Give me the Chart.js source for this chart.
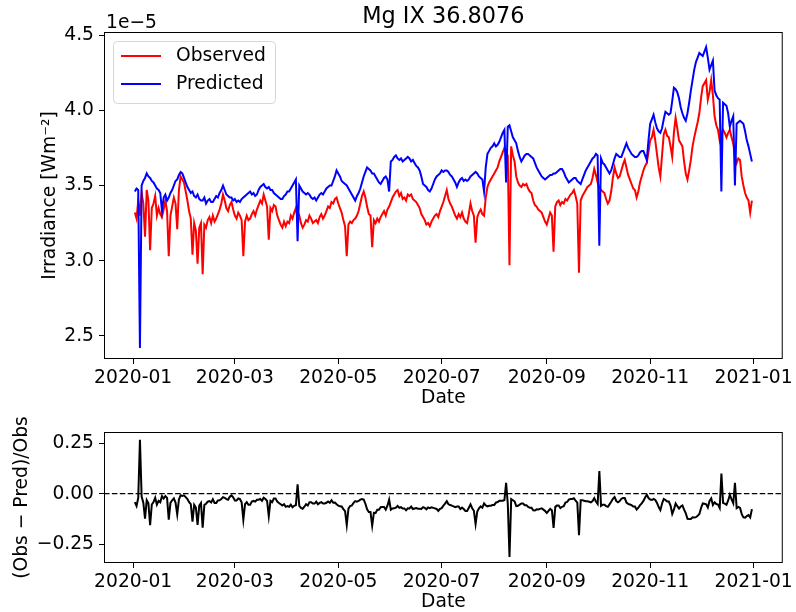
<!DOCTYPE html>
<html>
<head>
<meta charset="utf-8">
<script src="https://cdn.jsdelivr.net/npm/chart.js@4.4.1/dist/chart.umd.min.js"></script>
<style>
  body { margin: 0; background: #fff; }
  canvas { position: absolute; left: 0; }
  #top { top: 0; }
  #bottom { top: 410px; }
</style>
</head>
<body>
<canvas id="top" width="796" height="410"></canvas>
<canvas id="bottom" width="796" height="202"></canvas>
<script>
// daily samples, first one is 2020-01-02 (day 1, Jan 1 = day 0), units of 1e-5 W m^-2
const firstDay = 1;

const observed = [
  3.32, 3.28, 3.40, 3.30, 3.45, 3.38, 3.16, 3.47, 3.40, 3.07,
  3.35, 3.38, 3.43, 3.30, 3.35, 3.31, 3.29, 3.34, 3.40, 3.33,
  3.03, 3.30, 3.36, 3.42, 3.38, 3.21, 3.47, 3.56, 3.54, 3.52,
  3.46, 3.40, 3.33, 3.28, 3.04, 3.25, 3.20, 2.98, 3.22, 3.25,
  2.91, 3.24, 3.22, 3.27, 3.29, 3.25, 3.30, 3.26, 3.28, 3.31,
  3.34, 3.38, 3.44, 3.40, 3.35, 3.33, 3.37, 3.39, 3.34, 3.30,
  3.28, 3.32, 3.30, 3.27, 3.03, 3.26, 3.30, 3.27, 3.28, 3.31,
  3.33, 3.30, 3.34, 3.37, 3.40, 3.38, 3.44, 3.40, 3.36, 3.14,
  3.35, 3.33, 3.37, 3.36, 3.30, 3.27, 3.24, 3.22, 3.26, 3.23,
  3.26, 3.25, 3.30, 3.28, 3.32, 3.35, 3.28, 3.30, 3.25, 3.22,
  3.24, 3.27, 3.26, 3.30, 3.28, 3.25, 3.26, 3.27, 3.25, 3.29,
  3.31, 3.28, 3.30, 3.33, 3.36, 3.35, 3.39, 3.38, 3.41, 3.42,
  3.38, 3.35, 3.32, 3.27, 3.23, 3.03, 3.24, 3.26, 3.25, 3.27,
  3.28, 3.30, 3.33, 3.38, 3.43, 3.46, 3.42, 3.36, 3.31, 3.30,
  3.09, 3.27, 3.25, 3.28, 3.26, 3.29, 3.31, 3.33, 3.30, 3.34,
  3.36, 3.39, 3.42, 3.44, 3.46, 3.47, 3.43, 3.45, 3.41, 3.42,
  3.40, 3.44, 3.43, 3.44, 3.41, 3.40, 3.39, 3.37, 3.35, 3.31,
  3.29, 3.27, 3.24, 3.25, 3.23, 3.26, 3.28, 3.30, 3.31, 3.29,
  3.33, 3.36, 3.39, 3.43, 3.47, 3.41, 3.38, 3.36, 3.33, 3.30,
  3.28, 3.31, 3.29, 3.32, 3.28, 3.26, 3.25, 3.31, 3.38, 3.33,
  3.30, 3.12, 3.29, 3.32, 3.34, 3.31, 3.30, 3.42, 3.49, 3.52,
  3.54, 3.56, 3.58, 3.60, 3.62, 3.66, 3.69, 3.72, 3.75, 3.72,
  3.70, 2.97, 3.76, 3.70, 3.66, 3.56, 3.52, 3.50, 3.49, 3.51,
  3.50, 3.51, 3.48, 3.46, 3.45, 3.40, 3.37, 3.36, 3.34, 3.33,
  3.32, 3.29, 3.26, 3.24, 3.28, 3.32, 3.30, 3.06, 3.36, 3.39,
  3.40, 3.37, 3.39, 3.38, 3.41, 3.40, 3.42, 3.44, 3.45, 3.47,
  3.43, 3.38, 2.92, 3.40, 3.43, 3.45, 3.47, 3.49, 3.50, 3.51,
  3.55, 3.61, 3.57, 3.52, 3.49, 3.47, 3.46, 3.45, 3.41, 3.38,
  3.40, 3.46, 3.55, 3.62, 3.58, 3.55, 3.56, 3.60, 3.64, 3.67,
  3.62, 3.57, 3.54, 3.51, 3.48, 3.47, 3.42, 3.46, 3.52, 3.56,
  3.60, 3.63, 3.65, 3.72, 3.80, 3.82, 3.87, 3.80, 3.71, 3.62,
  3.56, 3.70, 3.84, 3.87, 3.83, 3.82, 3.76, 3.69, 3.85, 3.95,
  3.88, 3.80, 3.78, 3.76, 3.66, 3.58, 3.54, 3.60, 3.67, 3.76,
  3.82, 3.87, 3.92, 3.98, 4.08, 4.16, 4.18, 4.20, 4.07, 4.12,
  4.20, 4.10, 3.96, 3.90, 3.87, 3.80, 3.84, 3.87, 3.85, 3.82,
  3.85, 3.87, 3.82, 3.78, 3.70, 3.65, 3.68, 3.67, 3.56, 3.50,
  3.45, 3.42, 3.40, 3.32, 3.40
];

const predicted = [
  3.46, 3.48, 3.47, 2.42, 3.50, 3.53, 3.55, 3.58, 3.56, 3.55,
  3.53, 3.52, 3.50, 3.48, 3.47, 3.45, 3.33, 3.42, 3.44, 3.40,
  3.42, 3.45, 3.47, 3.50, 3.53, 3.54, 3.57, 3.59, 3.58, 3.55,
  3.52, 3.49, 3.47, 3.45, 3.46, 3.43, 3.42, 3.44, 3.41, 3.40,
  3.40, 3.42, 3.38, 3.40, 3.41, 3.39, 3.39, 3.41, 3.43, 3.42,
  3.45, 3.47, 3.50, 3.47, 3.44, 3.43, 3.42, 3.42, 3.40, 3.41,
  3.39, 3.40, 3.39, 3.41, 3.42, 3.43, 3.44, 3.45, 3.46, 3.44,
  3.45, 3.43, 3.44, 3.47, 3.49, 3.50, 3.51, 3.49, 3.48, 3.49,
  3.47, 3.47, 3.45, 3.44, 3.43, 3.42, 3.41, 3.41, 3.43, 3.44,
  3.46, 3.46, 3.48, 3.50, 3.52, 3.54, 3.13, 3.50, 3.48, 3.46,
  3.45, 3.44, 3.45, 3.44, 3.42, 3.41, 3.42, 3.40, 3.42, 3.44,
  3.45, 3.44, 3.46, 3.48, 3.49, 3.50, 3.50, 3.53, 3.56, 3.60,
  3.58, 3.56, 3.53, 3.52, 3.51, 3.50, 3.48, 3.46, 3.44, 3.42,
  3.40, 3.43, 3.45, 3.48, 3.52, 3.56, 3.59, 3.62, 3.61, 3.60,
  3.58, 3.58, 3.56, 3.54, 3.52, 3.51, 3.53, 3.55, 3.56, 3.54,
  3.46, 3.66, 3.67, 3.69, 3.70, 3.68, 3.67, 3.68, 3.66, 3.67,
  3.68, 3.69, 3.68, 3.66, 3.67, 3.65, 3.63, 3.62, 3.60, 3.56,
  3.51, 3.50, 3.49, 3.47, 3.46, 3.48, 3.51, 3.54, 3.56, 3.57,
  3.58, 3.60, 3.59, 3.60, 3.60, 3.59, 3.57, 3.56, 3.54, 3.52,
  3.49, 3.52, 3.54, 3.55, 3.53, 3.54, 3.53, 3.54, 3.56, 3.57,
  3.58, 3.59, 3.58, 3.56, 3.55, 3.54, 3.46, 3.62, 3.71, 3.73,
  3.75, 3.76, 3.78, 3.76, 3.77, 3.79, 3.82, 3.85, 3.87, 3.52,
  3.89, 3.90, 3.86, 3.82, 3.80, 3.78, 3.73, 3.69, 3.66, 3.68,
  3.70, 3.71, 3.71, 3.70, 3.69, 3.68, 3.65, 3.62, 3.60, 3.58,
  3.56, 3.55, 3.54, 3.55, 3.56, 3.57, 3.57, 3.58, 3.58, 3.59,
  3.60, 3.61, 3.61, 3.59, 3.56, 3.54, 3.52, 3.53, 3.54, 3.55,
  3.55, 3.53, 3.52, 3.51, 3.54, 3.57, 3.60, 3.62, 3.64, 3.66,
  3.68, 3.69, 3.71, 3.70, 3.10, 3.68, 3.65, 3.64, 3.62, 3.60,
  3.58, 3.60, 3.64, 3.68, 3.71, 3.70, 3.69, 3.69, 3.72, 3.75,
  3.78, 3.75, 3.73, 3.71, 3.70, 3.69, 3.69, 3.70, 3.72, 3.73,
  3.73, 3.70, 3.67, 3.80, 3.91, 3.94, 3.97, 3.92, 3.88, 3.86,
  3.85, 3.88, 3.94, 3.99, 3.98, 3.97, 3.98, 4.06, 4.15, 4.14,
  4.12, 4.08, 4.02, 3.98, 3.95, 3.93, 3.98, 4.05, 4.13, 4.20,
  4.27, 4.32, 4.35, 4.38, 4.37, 4.36, 4.39, 4.42, 4.35, 4.27,
  4.30, 4.33, 4.13, 4.10, 4.08, 4.07, 3.46, 4.05, 4.04, 4.03,
  3.98, 3.89, 3.93, 3.96, 3.50, 3.91, 3.92, 3.93, 3.92, 3.91,
  3.86, 3.80, 3.76, 3.71, 3.66
];

const tickDays = [0, 60, 121, 182, 244, 305, 366];
const tickLabels = ['2020-01', '2020-03', '2020-05', '2020-07', '2020-09', '2020-11', '2021-01'];
const irrTicks = [2.5, 3.0, 3.5, 4.0, 4.5];
const resTicks = [-0.25, 0, 0.25];

const xMin = -17.2, xMax = 383.2;
const FONT = 'DejaVu Sans';
const FS = 18.7;
Chart.defaults.font.family = FONT;
Chart.defaults.color = '#000';

const obsPts = observed.map((v, i) => ({ x: firstDay + i, y: v }));
const predPts = predicted.map((v, i) => ({ x: firstDay + i, y: v }));
const resPts = observed.map((v, i) => ({ x: firstDay + i, y: (v - predicted[i]) / v }));

function xScale(h) {
  return {
    type: 'linear', min: xMin, max: xMax,
    afterBuildTicks: s => { s.ticks = tickDays.map(v => ({ value: v })); },
    afterFit: s => { s.height = h; },
    ticks: {
      autoSkip: false, maxRotation: 0, padding: 3, font: { size: FS },
      callback: v => tickLabels[tickDays.indexOf(v)]
    },
    grid: { drawOnChartArea: false, tickLength: 5, color: '#000' },
    border: { display: false }
  };
}

function yScale(min, max, ticks, fmt) {
  return {
    min: min, max: max,
    afterBuildTicks: s => { s.ticks = ticks.map(v => ({ value: v })); },
    afterFit: s => { s.width = 104; },
    ticks: { padding: 5, font: { size: FS }, callback: fmt },
    grid: { drawOnChartArea: false, tickLength: 5, color: '#000' },
    border: { display: false }
  };
}

const frame = {
  id: 'frame',
  afterDatasetsDraw(chart) {
    const { ctx, chartArea: a } = chart;
    ctx.save();
    ctx.strokeStyle = '#000';
    ctx.lineWidth = 1;
    ctx.strokeRect(a.left + 0.5, a.top + 0.5, a.right - a.left - 1, a.bottom - a.top - 1);
    ctx.restore();
  }
};

function text(ctx, s, x, y, size, opts) {
  opts = opts || {};
  ctx.save();
  ctx.font = size + 'px "' + FONT + '"';
  ctx.fillStyle = '#000';
  ctx.textAlign = opts.align || 'center';
  ctx.textBaseline = opts.baseline || 'middle';
  ctx.translate(x, y);
  if (opts.rotate) ctx.rotate(-Math.PI / 2);
  ctx.fillText(s, 0, 0);
  ctx.restore();
}

const topText = {
  id: 'topText',
  afterDraw(chart) {
    const { ctx, chartArea: a } = chart;
    const cx = (a.left + a.right) / 2;
    text(ctx, 'Mg IX 36.8076', cx, 23, 22.4, { baseline: 'alphabetic' });
    text(ctx, '1e\u22125', a.left + 2, 28, FS, { align: 'left', baseline: 'alphabetic' });
    text(ctx, 'Irradiance [Wm\u207B\u00B2]', 50, (a.top + a.bottom) / 2, FS, { rotate: true });
    text(ctx, 'Date', cx, 398, FS);

    // legend
    ctx.save();
    ctx.beginPath();
    ctx.roundRect(113.5, 41.5, 162, 62, 4);
    ctx.fillStyle = 'rgba(255,255,255,0.8)';
    ctx.fill();
    ctx.strokeStyle = '#d6d6d6';
    ctx.lineWidth = 1;
    ctx.stroke();
    chart.data.datasets.forEach((ds, i) => {
      const y = 56 + i * 28;
      ctx.beginPath();
      ctx.moveTo(121, y);
      ctx.lineTo(161, y);
      ctx.strokeStyle = ds.borderColor;
      ctx.lineWidth = ds.borderWidth;
      ctx.stroke();
      text(ctx, ds.label, 176, y, FS, { align: 'left' });
    });
    ctx.restore();
  }
};

const bottomText = {
  id: 'bottomText',
  afterDraw(chart) {
    const { ctx, chartArea: a } = chart;
    text(ctx, '(Obs \u2212 Pred)/Obs', 22, (a.top + a.bottom) / 2, FS, { rotate: true });
    text(ctx, 'Date', (a.left + a.right) / 2, 192, FS);
  }
};

new Chart(document.getElementById('top'), {
  type: 'line',
  data: {
    datasets: [
      { label: 'Observed', data: obsPts, borderColor: '#ff0000', borderWidth: 2, order: 1 },
      { label: 'Predicted', data: predPts, borderColor: '#0000ff', borderWidth: 2, order: 0 }
    ]
  },
  options: {
    responsive: false,
    animation: false,
    layout: { padding: { top: 32, right: 9, left: 0, bottom: 0 } },
    elements: { point: { radius: 0 }, line: { tension: 0 } },
    scales: {
      x: xScale(51),
      y: yScale(2.347, 4.52, irrTicks, v => v.toFixed(1))
    },
    plugins: { legend: { display: false }, tooltip: { enabled: false } }
  },
  plugins: [frame, topText]
});

new Chart(document.getElementById('bottom'), {
  type: 'line',
  data: {
    datasets: [
      { label: 'Residual', data: resPts, borderColor: '#000', borderWidth: 2 },
      { label: 'Zero', data: [{ x: xMin, y: 0 }, { x: xMax, y: 0 }], borderColor: '#000',
        borderWidth: 1.3, borderDash: [5.5, 2.4] }
    ]
  },
  options: {
    responsive: false,
    animation: false,
    layout: { padding: { top: 22, right: 8, left: 0, bottom: 0 } },
    elements: { point: { radius: 0 }, line: { tension: 0 } },
    scales: {
      x: xScale(49),
      y: yScale(-0.343, 0.305, resTicks,
        v => v === 0 ? '0.00' : (v < 0 ? '\u2212' : '') + Math.abs(v).toFixed(2))
    },
    plugins: { legend: { display: false }, tooltip: { enabled: false } }
  },
  plugins: [frame, bottomText]
});
</script>
</body>
</html>
